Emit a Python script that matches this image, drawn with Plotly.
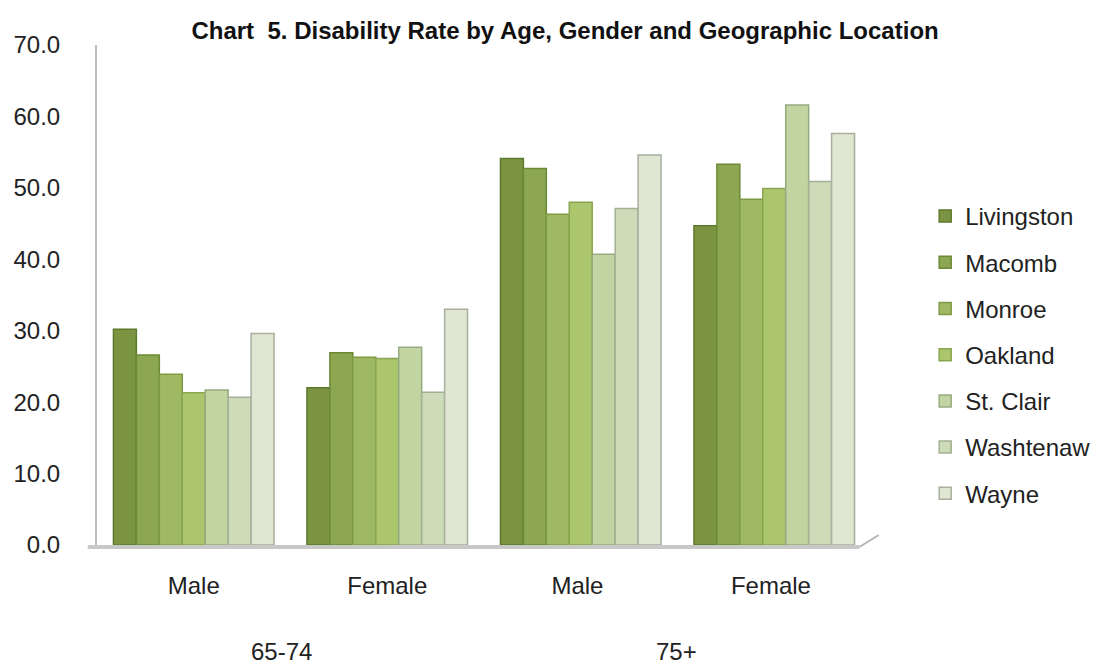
import plotly.graph_objects as go

# Disability rate (%) by age group, gender and county
genders = ["Male", "Female", "Male ", "Female "]
age_groups = ["65-74", "75+"]
counties = ["Livingston", "Macomb", "Monroe", "Oakland", "St. Clair", "Washtenaw", "Wayne"]

livingston = [30.2, 22.0, 54.1, 44.7]
macomb = [26.6, 26.9, 52.7, 53.3]
monroe = [23.9, 26.3, 46.3, 48.4]
oakland = [21.3, 26.1, 48.0, 49.9]
st_clair = [21.7, 27.7, 40.7, 61.6]
washtenaw = [20.7, 21.4, 47.1, 50.9]
wayne = [29.6, 33.0, 54.6, 57.6]

series = [livingston, macomb, monroe, oakland, st_clair, washtenaw, wayne]
fills = ["#7a9442", "#8ca651", "#9fb862", "#abc66c", "#c1d4a1", "#cddbb9", "#dfe6d2"]
edges = ["#5d7a2c", "#6c8a36", "#7f9a45", "#8aa550", "#97ab80", "#a3b094", "#a9ae9f"]

fig = go.Figure()
for i, (name, vals) in enumerate(zip(counties, series)):
    fig.add_trace(go.Bar(
        x=genders, y=vals, name=name, legendgroup=name,
        marker=dict(color=fills[i], line=dict(color=edges[i], width=1.5)),
    ))

# floor band and its right-hand edge
fig.add_shape(type="line", xref="paper", yref="paper", x0=-0.012, x1=0.985, y0=-0.004, y1=-0.004,
              line=dict(color="#c8c8c8", width=4))
fig.add_shape(type="line", xref="paper", yref="paper", x0=0.985, x1=1.01, y0=-0.004, y1=0.02,
              line=dict(color="#b5b5b5", width=2))

# age group labels centred under each pair of gender labels
for label, xp in zip(age_groups, [0.238, 0.749]):
    fig.add_annotation(text=label, xref="paper", yref="paper", x=xp, y=-0.212,
                       xanchor="center", yanchor="middle",
                       showarrow=False, font=dict(size=24, color="#222222"))

fig.update_layout(
    width=1108, height=672,
    margin=dict(l=97, r=229, t=45, b=127),
    paper_bgcolor="white", plot_bgcolor="white",
    title=dict(text="<b>Chart  5. Disability Rate by Age, Gender and Geographic Location</b>",
               x=0.51, xanchor="center", y=0.955, yanchor="middle",
               font=dict(family="Liberation Sans, Arial, sans-serif", size=24, color="#111111")),
    barmode="group", bargap=0.17, bargroupgap=0.0,
    font=dict(family="Liberation Sans, Arial, sans-serif", size=24, color="#222222"),
    legend=dict(x=1.07, xanchor="left", y=0.38, yanchor="middle", tracegroupgap=12,
                font=dict(size=24, color="#222222"), itemwidth=30,
                bgcolor="rgba(0,0,0,0)"),
    showlegend=True,
)
fig.update_yaxes(range=[0, 70], dtick=10, tickformat=".1f", showgrid=False, zeroline=False,
                 showline=True, linecolor="#bdbdbd", linewidth=2, ticks="",
                 ticklabelstandoff=30, tickfont=dict(size=24, color="#222222"))
fig.update_xaxes(showgrid=False, showline=False, ticks="", ticklabelstandoff=24,
                 tickfont=dict(size=24, color="#222222"))

fig.write_html("out.html")
